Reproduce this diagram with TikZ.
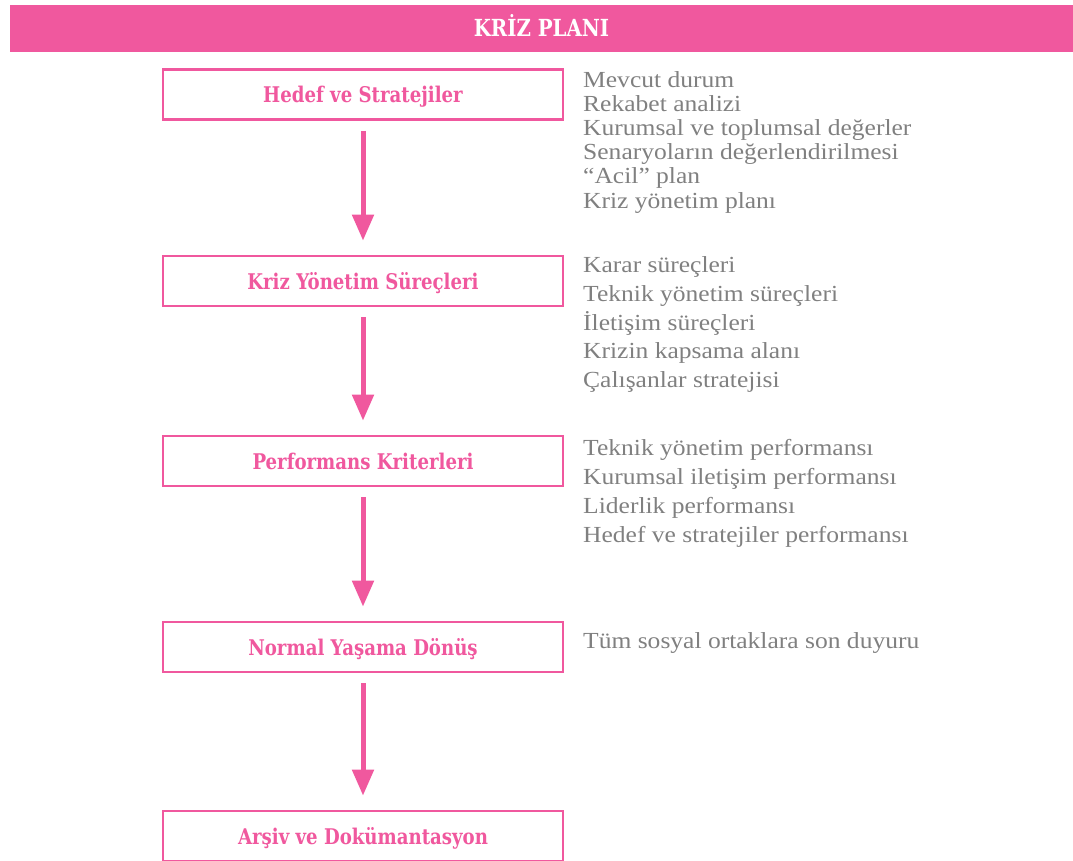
\documentclass[tikz,border=0pt]{standalone}
\usepackage{fontspec}
\setmainfont[FakeStretch=1.11]{Liberation Serif}
\newfontfamily\labelfont[FakeStretch=0.84]{DejaVu Serif}
\usetikzlibrary{arrows.meta}
\definecolor{krizpink}{RGB}{240,88,158}
\definecolor{notegray}{RGB}{128,128,128}
\tikzset{
  titlebar/.style={fill=krizpink, text=white, inner sep=0pt,
    minimum width=1063pt, minimum height=47pt,
    text height=17pt, text depth=0pt,
    font=\labelfont\bfseries\fontsize{23.5}{25}\selectfont},
  stepbox/.style={draw=krizpink, line width=2.7pt, fill=white, inner sep=0pt,
    minimum width=400pt, minimum height=50pt, text=krizpink,
    text height=17pt, text depth=0pt,
    font=\labelfont\bfseries\fontsize{21.6}{24}\selectfont},
  flowarrow/.style={draw=krizpink, line width=5pt,
    shorten <=10pt, shorten >=14pt,
    -{Triangle[width=21pt,length=26pt]}},
  note/.style={anchor=base west, inner sep=0pt, text=notegray,
    font=\fontsize{23}{25}\selectfont}
}
\begin{document}
\begin{tikzpicture}[x=1pt,y=-1pt]
\useasboundingbox (0,0) rectangle (1073,861);

% heading band
\node[titlebar] (title) at (541.5,28.5) {KRİZ PLANI};

% process steps
\node[stepbox] (b1) at (363,94.5) {Hedef ve Stratejiler};
\node[stepbox] (b2) at (363,281)  {Kriz Yönetim Süreçleri};
\node[stepbox] (b3) at (363,461)  {Performans Kriterleri};
\node[stepbox] (b4) at (363,647)  {Normal Yaşama Dönüş};
\node[stepbox] (b5) at (363,836)  {Arşiv ve Dokümantasyon};

% connectors
\draw[flowarrow] (b1.south) -- (b2.north);
\draw[flowarrow] (b2.south) -- (b3.north);
\draw[flowarrow] (b3.south) -- (b4.north);
\draw[flowarrow] (b4.south) -- (b5.north);

% notes beside each step
\foreach \txt [count=\i] in {Mevcut durum, Rekabet analizi,
    Kurumsal ve toplumsal değerler, Senaryoların değerlendirilmesi,
    “Acil” plan, Kriz yönetim planı}
  \node[note] (n1-\i) at (583,{88+24*(\i-1)}) {\txt};

\foreach \txt [count=\i] in {Karar süreçleri, Teknik yönetim süreçleri,
    İletişim süreçleri, Krizin kapsama alanı, Çalışanlar stratejisi}
  \node[note] (n2-\i) at (583,{272.5+28.8*(\i-1)}) {\txt};

\foreach \txt [count=\i] in {Teknik yönetim performansı,
    Kurumsal iletişim performansı, Liderlik performansı,
    Hedef ve stratejiler performansı}
  \node[note] (n3-\i) at (583,{455+29.3*(\i-1)}) {\txt};

\node[note] (n4-1) at (583,648) {Tüm sosyal ortaklara son duyuru};
\end{tikzpicture}
\end{document}
